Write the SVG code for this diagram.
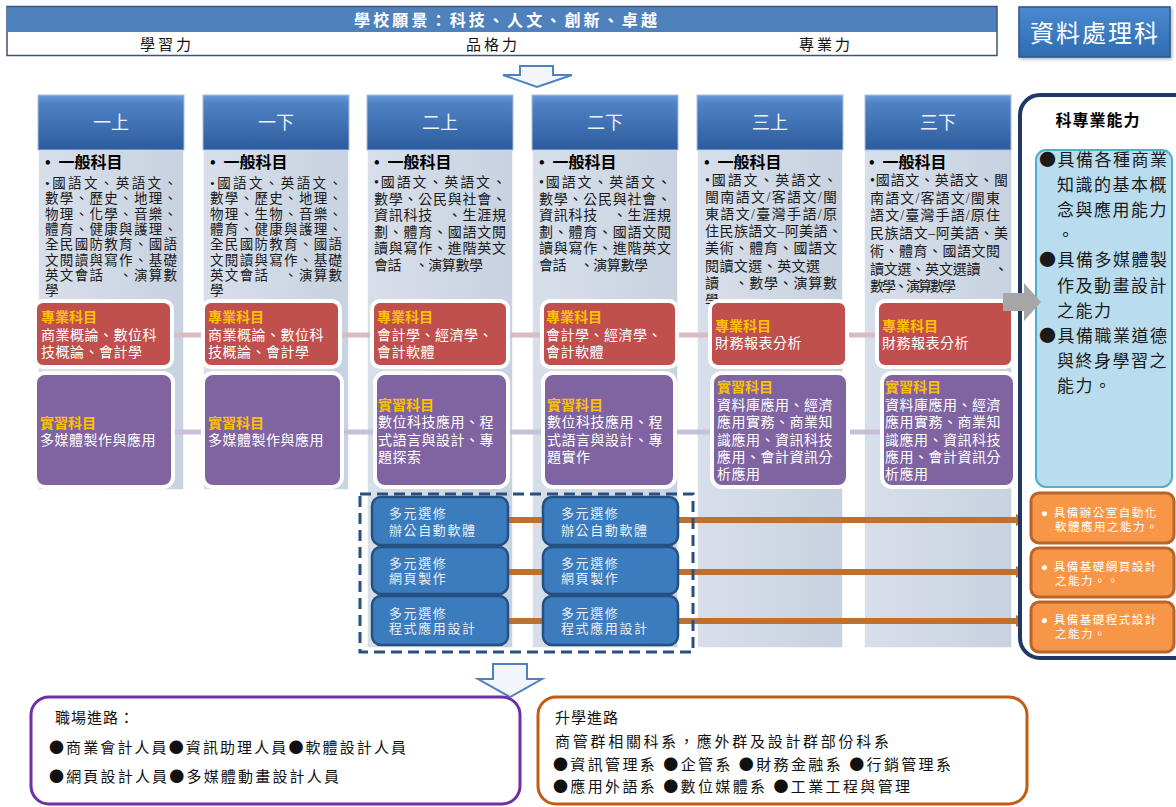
<svg xmlns="http://www.w3.org/2000/svg" width="1176" height="807" viewBox="0 0 1176 807">
<defs>
<linearGradient id="hg" x1="0" y1="0" x2="0" y2="1">
<stop offset="0" stop-color="#6b9bd8"/><stop offset="0.15" stop-color="#4f82c4"/><stop offset="1" stop-color="#2c5c9e"/>
</linearGradient>
<linearGradient id="bg" x1="0" y1="0" x2="1" y2="0">
<stop offset="0" stop-color="#d7dfea"/><stop offset="1" stop-color="#c8d2e0"/>
</linearGradient>
<linearGradient id="tg" x1="0" y1="0" x2="0" y2="1">
<stop offset="0" stop-color="#4a8ad0"/><stop offset="1" stop-color="#2f6cb0"/>
</linearGradient>
<marker id="oa" markerUnits="userSpaceOnUse" markerWidth="12" markerHeight="14" refX="10" refY="7" orient="auto">
<path d="M0,1 L11,7 L0,13 Z" fill="#c0702e"/>
</marker>
<filter id="sh" x="-10%" y="-10%" width="130%" height="130%">
<feDropShadow dx="1.5" dy="1.5" stdDeviation="1.5" flood-color="#000" flood-opacity="0.3"/>
</filter>
</defs>
<style>
text{font-family:"Liberation Serif","Noto Sans CJK TC","Noto Sans CJK SC",serif;}
.cj{font-family:"Noto Sans CJK TC","Noto Sans CJK SC",sans-serif;}
.hdr{fill:url(#hg);stroke:#a8c0de;stroke-width:1;}
.body{fill:url(#bg);stroke:#ffffff;stroke-width:1.5;}
.ht{fill:#eef3fb;font-size:18px;text-anchor:middle;}
.gh{fill:#000;font-size:16px;font-weight:bold;}
.bt{fill:#1a1a1a;font-size:14px;}
.bs{fill:#1a1a1a;font-size:13.5px;}
.red{fill:#c0504d;stroke:#fff;stroke-width:4;}
.pur{fill:#8064a2;stroke:#fff;stroke-width:4;}
.lab{fill:#ffc000;font-size:14px;font-weight:bold;}
.wt{fill:#fff;font-size:14px;letter-spacing:0.5px;}
.el{fill:#3b7cbf;stroke:#25507f;stroke-width:2.5;}
.et{fill:#e8eef8;font-size:13px;letter-spacing:1.6px;}
.ob{fill:#f79646;stroke:#b8642b;stroke-width:3;}
.ot{fill:#fff;font-size:11.5px;letter-spacing:1.5px;}
.cap{fill:#1a1a1a;font-size:17px;letter-spacing:1.5px;}
.bb{fill:#111;font-size:15px;}
</style>

<g id="vision">
<rect x="8" y="7" width="989" height="25" fill="#4f81bd"/>
<rect x="8" y="32" width="989" height="23" fill="#fff"/>
<rect x="7" y="6.5" width="990" height="49" fill="none" stroke="#3a5576" stroke-width="1.5"/>
<text x="354" y="26" fill="#fff" font-size="16" font-weight="bold" textLength="303" lengthAdjust="spacing">學校願景：科技、人文、創新、卓越</text>
<text x="167" y="50" text-anchor="middle" fill="#111" font-size="15" letter-spacing="3">學習力</text>
<text x="493" y="50" text-anchor="middle" fill="#111" font-size="15" letter-spacing="3">品格力</text>
<text x="826" y="50" text-anchor="middle" fill="#111" font-size="15" letter-spacing="3">專業力</text>
</g>

<g id="dept">
<rect x="1019" y="7" width="151" height="50" fill="url(#tg)" stroke="#2a5688" stroke-width="1.5" filter="url(#sh)"/>
<text x="1095" y="42" text-anchor="middle" fill="#fff" font-size="24" letter-spacing="2">資料處理科</text>
</g>

<g id="col1">
<rect class="body" x="38" y="150" width="146" height="340"/>
<rect class="hdr" x="38" y="95" width="146" height="55"/>
<text class="ht" x="111" y="129">一上</text>
<text class="gh" x="45" y="168">•&#160;&#160;一般科目</text>
<text class="bs" x="45" y="188" textLength="132" lengthAdjust="spacing">•國語文、英語文、</text>
<text class="bs" x="45" y="203.3" textLength="132" lengthAdjust="spacing">數學、歷史、地理、</text>
<text class="bs" x="45" y="218.6" textLength="132" lengthAdjust="spacing">物理、化學、音樂、</text>
<text class="bs" x="45" y="234" textLength="132" lengthAdjust="spacing">體育、健康與護理、</text>
<text class="bs" x="45" y="249.2" textLength="132" lengthAdjust="spacing">全民國防教育、國語</text>
<text class="bs" x="45" y="264.5" textLength="132" lengthAdjust="spacing">文閱讀與寫作、基礎</text>
<text class="bs" x="45" y="279.8" textLength="132" lengthAdjust="spacing">英文會話　、演算數</text>
<text class="bs" x="45" y="295">學</text>
</g>

<g id="col2">
<rect class="body" x="203" y="150" width="146" height="340"/>
<rect class="hdr" x="203" y="95" width="146" height="55"/>
<text class="ht" x="276" y="129">一下</text>
<text class="gh" x="210" y="168">•&#160;&#160;一般科目</text>
<text class="bs" x="210" y="188" textLength="132" lengthAdjust="spacing">•國語文、英語文、</text>
<text class="bs" x="210" y="203.3" textLength="132" lengthAdjust="spacing">數學、歷史、地理、</text>
<text class="bs" x="210" y="218.6" textLength="132" lengthAdjust="spacing">物理、生物、音樂、</text>
<text class="bs" x="210" y="234" textLength="132" lengthAdjust="spacing">體育、健康與護理、</text>
<text class="bs" x="210" y="249.2" textLength="132" lengthAdjust="spacing">全民國防教育、國語</text>
<text class="bs" x="210" y="264.5" textLength="132" lengthAdjust="spacing">文閱讀與寫作、基礎</text>
<text class="bs" x="210" y="279.8" textLength="132" lengthAdjust="spacing">英文會話　、演算數</text>
<text class="bs" x="210" y="295">學</text>
</g>

<g id="col3">
<rect class="body" x="367" y="150" width="146" height="498"/>
<rect class="hdr" x="367" y="95" width="146" height="55"/>
<text class="ht" x="440" y="129">二上</text>
<text class="gh" x="374" y="168">•&#160;&#160;一般科目</text>
<text class="bt" x="374" y="187" textLength="132" lengthAdjust="spacing">•國語文、英語文、</text>
<text class="bt" x="374" y="203.6" textLength="132" lengthAdjust="spacing">數學、公民與社會、</text>
<text class="bt" x="374" y="220.2" textLength="132" lengthAdjust="spacing">資訊科技　、生涯規</text>
<text class="bt" x="374" y="236.8" textLength="132" lengthAdjust="spacing">劃、體育、國語文閱</text>
<text class="bt" x="374" y="253.4" textLength="132" lengthAdjust="spacing">讀與寫作、進階英文</text>
<text class="bt" x="374" y="270" textLength="109" lengthAdjust="spacing">會話　、演算數學</text>
</g>

<g id="col4">
<rect class="body" x="532" y="150" width="146" height="498"/>
<rect class="hdr" x="532" y="95" width="146" height="55"/>
<text class="ht" x="605" y="129">二下</text>
<text class="gh" x="539" y="168">•&#160;&#160;一般科目</text>
<text class="bt" x="539" y="187" textLength="132" lengthAdjust="spacing">•國語文、英語文、</text>
<text class="bt" x="539" y="203.6" textLength="132" lengthAdjust="spacing">數學、公民與社會、</text>
<text class="bt" x="539" y="220.2" textLength="132" lengthAdjust="spacing">資訊科技　、生涯規</text>
<text class="bt" x="539" y="236.8" textLength="132" lengthAdjust="spacing">劃、體育、國語文閱</text>
<text class="bt" x="539" y="253.4" textLength="132" lengthAdjust="spacing">讀與寫作、進階英文</text>
<text class="bt" x="539" y="270" textLength="109" lengthAdjust="spacing">會話　、演算數學</text>
</g>

<g id="col5">
<rect class="body" x="697" y="150" width="146" height="498"/>
<rect class="hdr" x="697" y="95" width="146" height="55"/>
<text class="ht" x="770" y="129">三上</text>
<text class="gh" x="704" y="168">•&#160;&#160;一般科目</text>
<text class="bt" x="705" y="185" textLength="132" lengthAdjust="spacing">•國語文、英語文、</text>
<text class="bt" x="705" y="202.1" textLength="132" lengthAdjust="spacing">閩南語文/客語文/閩</text>
<text class="bt" x="705" y="219.2" textLength="132" lengthAdjust="spacing">東語文/臺灣手語/原</text>
<text class="bt" x="705" y="236.3" textLength="137" lengthAdjust="spacing">住民族語文–阿美語、</text>
<text class="bt" x="705" y="253.4" textLength="132" lengthAdjust="spacing">美術、體育、國語文</text>
<text class="bt" x="705" y="270.5" textLength="115" lengthAdjust="spacing">閱讀文選、英文選</text>
<text class="bt" x="705" y="287.6" textLength="132" lengthAdjust="spacing">讀　、數學、演算數</text>
<text class="bt" x="705" y="304.7">學</text>
</g>

<g id="col6">
<rect class="body" x="864" y="148" width="148" height="500"/>
<rect class="hdr" x="865" y="95" width="146" height="55"/>
<text class="ht" x="938" y="129">三下</text>
<text class="gh" x="869" y="168">•&#160;&#160;一般科目</text>
<text class="bt" x="870" y="185" textLength="138" lengthAdjust="spacing">•國語文、英語文、閩</text>
<text class="bt" x="870" y="202.7" textLength="130" lengthAdjust="spacing">南語文/客語文/閩東</text>
<text class="bt" x="870" y="220.4" textLength="130" lengthAdjust="spacing">語文/臺灣手語/原住</text>
<text class="bt" x="870" y="238.1" textLength="138" lengthAdjust="spacing">民族語文–阿美語、美</text>
<text class="bt" x="870" y="255.8" textLength="130" lengthAdjust="spacing">術、體育、國語文閱</text>
<text class="bt" x="870" y="273.5" textLength="138" lengthAdjust="spacing">讀文選、英文選讀　、</text>
<text class="bt" x="870" y="291.2" textLength="86" lengthAdjust="spacing">數學、演算數學</text>
</g>

<g id="connectors">
<line x1="172" y1="335" x2="877" y2="335" stroke="#d9bcc1" stroke-width="5"/>
<line x1="173" y1="432" x2="882" y2="432" stroke="#c7c0d8" stroke-width="5"/>
<line x1="508" y1="520" x2="1026" y2="520" stroke="#c0702e" stroke-width="6" marker-end="url(#oa)"/>
<line x1="508" y1="572" x2="1026" y2="572" stroke="#c0702e" stroke-width="6" marker-end="url(#oa)"/>
<line x1="508" y1="621" x2="1026" y2="621" stroke="#c0702e" stroke-width="6" marker-end="url(#oa)"/>
<path d="M520,66 H553 V75 H572 L537,87 L503,75 H520 Z" fill="#f2f6fb" stroke="#4f81bd" stroke-width="2"/>
<path d="M493,664 H527 V679 H542 L510,697 L478,679 H493 Z" fill="#f2f6fb" stroke="#4f81bd" stroke-width="2"/>
</g>

<g id="pro1">
<rect class="red" x="35" y="301" width="137" height="66" rx="8"/>
<text class="lab" x="41" y="322">專業科目</text>
<text class="wt" x="41" y="340">商業概論、數位科</text>
<text class="wt" x="41" y="357">技概論、會計學</text>
</g>
<g id="pro2">
<rect class="red" x="203" y="301" width="137" height="66" rx="8"/>
<text class="lab" x="208" y="322">專業科目</text>
<text class="wt" x="208" y="340">商業概論、數位科</text>
<text class="wt" x="208" y="357">技概論、會計學</text>
</g>
<g id="pro3">
<rect class="red" x="372" y="301" width="136" height="66" rx="8"/>
<text class="lab" x="377" y="322">專業科目</text>
<text class="wt" x="377" y="340">會計學、經濟學、</text>
<text class="wt" x="377" y="357">會計軟體</text>
</g>
<g id="pro4">
<rect class="red" x="542" y="301" width="135" height="66" rx="8"/>
<text class="lab" x="546" y="322">專業科目</text>
<text class="wt" x="546" y="340">會計學、經濟學、</text>
<text class="wt" x="546" y="357">會計軟體</text>
</g>
<g id="pro5">
<rect class="red" x="710" y="301" width="137" height="66" rx="8"/>
<text class="lab" x="715" y="331">專業科目</text>
<text class="wt" x="715" y="348">財務報表分析</text>
</g>
<g id="pro6">
<rect class="red" x="877" y="301" width="136" height="66" rx="8"/>
<text class="lab" x="882" y="331">專業科目</text>
<text class="wt" x="882" y="348">財務報表分析</text>
</g>

<g id="prac1">
<rect class="pur" x="35" y="373" width="138" height="114" rx="10"/>
<text class="lab" x="40" y="428">實習科目</text>
<text class="wt" x="40" y="445">多媒體製作與應用</text>
</g>
<g id="prac2">
<rect class="pur" x="203" y="373" width="139" height="114" rx="10"/>
<text class="lab" x="208" y="428">實習科目</text>
<text class="wt" x="208" y="445">多媒體製作與應用</text>
</g>
<g id="prac3">
<rect class="pur" x="375" y="373" width="133" height="114" rx="10"/>
<text class="lab" x="378" y="410">實習科目</text>
<text class="wt" x="378" y="427">數位科技應用、程</text>
<text class="wt" x="378" y="445">式語言與設計、專</text>
<text class="wt" x="378" y="462">題探索</text>
</g>
<g id="prac4">
<rect class="pur" x="543" y="373" width="132" height="114" rx="10"/>
<text class="lab" x="547" y="410">實習科目</text>
<text class="wt" x="547" y="427">數位科技應用、程</text>
<text class="wt" x="547" y="445">式語言與設計、專</text>
<text class="wt" x="547" y="462">題實作</text>
</g>
<g id="prac5">
<rect class="pur" x="712" y="373" width="136" height="114" rx="10"/>
<text class="lab" x="717" y="392">實習科目</text>
<text class="wt" x="717" y="410">資料庫應用、經濟</text>
<text class="wt" x="717" y="427">應用實務、商業知</text>
<text class="wt" x="717" y="445">識應用、資訊科技</text>
<text class="wt" x="717" y="462">應用、會計資訊分</text>
<text class="wt" x="717" y="479">析應用</text>
</g>
<g id="prac6">
<rect class="pur" x="882" y="373" width="133" height="114" rx="10"/>
<text class="lab" x="885" y="392">實習科目</text>
<text class="wt" x="885" y="410">資料庫應用、經濟</text>
<text class="wt" x="885" y="427">應用實務、商業知</text>
<text class="wt" x="885" y="445">識應用、資訊科技</text>
<text class="wt" x="885" y="462">應用、會計資訊分</text>
<text class="wt" x="885" y="479">析應用</text>
</g>

<g id="electives">
<rect x="360" y="494" width="333" height="158" fill="none" stroke="#2a4f7e" stroke-width="3" stroke-dasharray="11,6"/>
<rect class="el" x="372" y="497" width="136" height="48" rx="9"/>
<text class="et" x="389" y="518">多元選修</text>
<text class="et" x="389" y="535">辦公自動軟體</text>
<rect class="el" x="372" y="547" width="136" height="47" rx="9"/>
<text class="et" x="389" y="568">多元選修</text>
<text class="et" x="389" y="583">網頁製作</text>
<rect class="el" x="372" y="596" width="136" height="49" rx="9"/>
<text class="et" x="389" y="618">多元選修</text>
<text class="et" x="389" y="633">程式應用設計</text>
<rect class="el" x="543" y="497" width="135" height="48" rx="9"/>
<text class="et" x="561" y="518">多元選修</text>
<text class="et" x="561" y="535">辦公自動軟體</text>
<rect class="el" x="543" y="547" width="135" height="47" rx="9"/>
<text class="et" x="561" y="568">多元選修</text>
<text class="et" x="561" y="583">網頁製作</text>
<rect class="el" x="543" y="596" width="135" height="49" rx="9"/>
<text class="et" x="561" y="618">多元選修</text>
<text class="et" x="561" y="633">程式應用設計</text>
</g>

<g id="abilities">
<rect x="1020" y="95" width="175" height="563" rx="20" fill="#fff" stroke="#1f3864" stroke-width="4"/>
<text x="1098" y="126" text-anchor="middle" fill="#000" font-size="16" font-weight="bold" letter-spacing="1">科專業能力</text>
<rect x="1036" y="150" width="136" height="337" rx="10" fill="#b9ddef" stroke="#4fb0c8" stroke-width="2"/>
<text class="cap" x="1039" y="166"><tspan class="cj">●</tspan>具備各種商業</text>
<text class="cap" x="1057" y="191">知識的基本概</text>
<text class="cap" x="1057" y="216">念與應用能力</text>
<text class="cap" x="1057" y="241">。</text>
<text class="cap" x="1039" y="266"><tspan class="cj">●</tspan>具備多媒體製</text>
<text class="cap" x="1057" y="292">作及動畫設計</text>
<text class="cap" x="1057" y="317">之能力</text>
<text class="cap" x="1039" y="342"><tspan class="cj">●</tspan>具備職業道德</text>
<text class="cap" x="1057" y="367">與終身學習之</text>
<text class="cap" x="1057" y="392">能力。</text>
<rect class="ob" x="1031" y="493" width="143" height="50" rx="8"/>
<text class="ot" x="1041" y="517">● 具備辦公室自動化</text>
<text class="ot" x="1055" y="531">軟體應用之能力。</text>
<rect class="ob" x="1031" y="548" width="143" height="49" rx="8"/>
<text class="ot" x="1041" y="571">● 具備基礎網頁設計</text>
<text class="ot" x="1055" y="585">之能力。。</text>
<rect class="ob" x="1031" y="602" width="143" height="50" rx="8"/>
<text class="ot" x="1041" y="624">● 具備基礎程式設計</text>
<text class="ot" x="1055" y="638">之能力。</text>
</g>

<g id="grayarrow">
<path d="M1003,293 H1024 V283 L1041,302 L1024,321 V311 H1003 Z" fill="#a6a6a6"/>
</g>

<g id="career">
<rect x="31" y="697" width="489" height="107" rx="18" fill="#fff" stroke="#7030a0" stroke-width="3"/>
<text class="bb" x="55" y="723" letter-spacing="1">職場進路：</text>
<text class="bb" x="49" y="753" textLength="357" lengthAdjust="spacing"><tspan class="cj">●</tspan>商業會計人員<tspan class="cj">●</tspan>資訊助理人員<tspan class="cj">●</tspan>軟體設計人員</text>
<text class="bb" x="49" y="782" textLength="290" lengthAdjust="spacing"><tspan class="cj">●</tspan>網頁設計人員<tspan class="cj">●</tspan>多媒體動畫設計人員</text>
</g>

<g id="study">
<rect x="538" y="697" width="489" height="107" rx="18" fill="#fff" stroke="#c55a11" stroke-width="3"/>
<text class="bb" x="555" y="723" letter-spacing="1">升學進路</text>
<text class="bb" x="555" y="747" textLength="334" lengthAdjust="spacing">商管群相關科系，應外群及設計群部份科系</text>
<text class="bb" x="553" y="770" textLength="398" lengthAdjust="spacing"><tspan class="cj">●</tspan>資訊管理系 <tspan class="cj">●</tspan>企管系 <tspan class="cj">●</tspan>財務金融系 <tspan class="cj">●</tspan>行銷管理系</text>
<text class="bb" x="553" y="792" textLength="357" lengthAdjust="spacing"><tspan class="cj">●</tspan>應用外語系 <tspan class="cj">●</tspan>數位媒體系 <tspan class="cj">●</tspan>工業工程與管理</text>
</g>
</svg>
